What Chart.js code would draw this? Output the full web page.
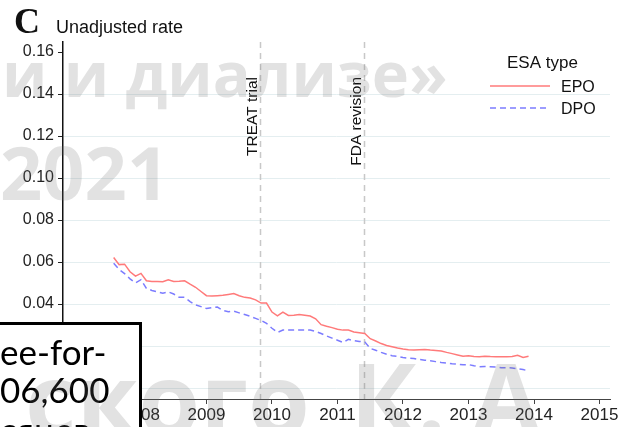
<!DOCTYPE html>
<html>
<head>
<meta charset="utf-8">
<script src="https://cdn.jsdelivr.net/npm/chart.js@4.4.1/dist/chart.umd.min.js"></script>
<style>
  html, body { margin: 0; padding: 0; background: #fff; overflow: hidden; }
  #wrap { width: 626px; height: 427px; position: relative; }
</style>
</head>
<body>
<div id="wrap"><canvas id="chart" width="626" height="427"></canvas></div>
<script>
// === Data (monthly, Aug 2007 - Dec 2013) ===
const firstMonth = [2007, 8];
const epoRate = [
  0.0622, 0.0588, 0.0590, 0.0554, 0.0533, 0.0546, 0.0511, 0.0508, 0.0508, 0.0506,
  0.0516, 0.0508, 0.0509, 0.0511, 0.0495, 0.0480, 0.0460, 0.0440, 0.0438, 0.0440,
  0.0442, 0.0446, 0.0450, 0.0440, 0.0432, 0.0429, 0.0420, 0.0405, 0.0405, 0.0362,
  0.0344, 0.0362, 0.0346, 0.0347, 0.0350, 0.0347, 0.0343, 0.0330, 0.0302, 0.0294,
  0.0288, 0.0280, 0.0276, 0.0276, 0.0267, 0.0264, 0.0260, 0.0235, 0.0224, 0.0212,
  0.0203, 0.0197, 0.0191, 0.0186, 0.0182, 0.0181, 0.0183, 0.0184, 0.0181, 0.0179,
  0.0177, 0.0170, 0.0164, 0.0158, 0.0152, 0.0154, 0.0150, 0.0149, 0.0152, 0.0150,
  0.0149, 0.0149, 0.0149, 0.0150, 0.0156, 0.0146, 0.0152
];
const dpoRate = [
  0.0594, 0.0565, 0.0545, 0.0520, 0.0501, 0.0516, 0.0475, 0.0465, 0.0458, 0.0452,
  0.0458, 0.0448, 0.0432, 0.0432, 0.0412, 0.0396, 0.0388, 0.0379, 0.0383, 0.0386,
  0.0370, 0.0364, 0.0366, 0.0358, 0.0350, 0.0342, 0.0332, 0.0322, 0.0308, 0.0285,
  0.0265, 0.0276, 0.0276, 0.0276, 0.0277, 0.0277, 0.0276, 0.0270, 0.0260, 0.0248,
  0.0238, 0.0228, 0.0217, 0.0232, 0.0226, 0.0222, 0.0220, 0.0189, 0.0180, 0.0170,
  0.0161, 0.0154, 0.0151, 0.0146, 0.0142, 0.0141, 0.0136, 0.0133, 0.0130, 0.0126,
  0.0122, 0.0119, 0.0116, 0.0114, 0.0111, 0.0112, 0.0106, 0.0102, 0.0103, 0.0102,
  0.0100, 0.0097, 0.0097, 0.0096, 0.0092, 0.0088, 0.0082
];
const yTicks = [0, 0.02, 0.04, 0.06, 0.08, 0.10, 0.12, 0.14, 0.16];
const xTicks = [2008, 2009, 2010, 2011, 2012, 2013, 2014, 2015];
const events = [
  { label: "TREAT trial", at: 2009.82 },
  { label: "FDA revision", at: 2011.40 }
];
const seriesNames = ["EPO", "DPO"];

// month index -> decimal year
const monthPos = epoRate.map((_, i) => firstMonth[0] + (firstMonth[1] - 1 + i) / 12);
const toPoints = arr => arr.map((v, i) => ({ x: monthPos[i], y: v }));

const SANS = '"Liberation Sans", Arial, sans-serif';
const RED = "#ff7a7a";
const BLUE = "#7c7cff";

// === Annotations, legend, title, overlay ===
const decor = {
  id: "decor",
  beforeDatasetsDraw(chart) {
    const { ctx, chartArea: a, scales: { x } } = chart;
    ctx.save();
    ctx.strokeStyle = "#c8c8c8";
    ctx.lineWidth = 1.5;
    ctx.setLineDash([6, 5]);
    events.forEach(ev => {
      const px = Math.round(x.getPixelForValue(ev.at)) + 0.5;
      ctx.beginPath();
      ctx.moveTo(px, a.top);
      ctx.lineTo(px, a.bottom);
      ctx.stroke();
    });
    ctx.restore();
  },
  afterDraw(chart) {
    const { ctx, scales: { x } } = chart;
    ctx.save();

    // event labels (rotated)
    ctx.fillStyle = "#111";
    ctx.font = "15.5px " + SANS;
    ctx.textAlign = "right";
    ctx.textBaseline = "alphabetic";
    events.forEach(ev => {
      const px = x.getPixelForValue(ev.at) - 3;
      ctx.save();
      ctx.translate(px, 77);
      ctx.rotate(-Math.PI / 2);
      ctx.fillText(ev.label, 0, 0);
      ctx.restore();
    });

    // title
    ctx.textAlign = "left";
    ctx.font = "bold 36px \"Liberation Serif\", serif";
    ctx.fillText("C", 14, 33);
    ctx.font = "18px " + SANS;
    ctx.fillText("Unadjusted rate", 56, 33);

    // legend
    ctx.font = "17px " + SANS;
    ctx.fillText("ESA type", 507, 68);
    ctx.font = "16px " + SANS;
    ctx.fillText(seriesNames[0], 561, 92);
    ctx.fillText(seriesNames[1], 561, 114);
    ctx.lineWidth = 1.5;
    ctx.strokeStyle = RED;
    ctx.beginPath(); ctx.moveTo(490, 86); ctx.lineTo(550, 86); ctx.stroke();
    ctx.strokeStyle = BLUE;
    ctx.setLineDash([6, 4]);
    ctx.beginPath(); ctx.moveTo(490, 108); ctx.lineTo(550, 108); ctx.stroke();
    ctx.setLineDash([]);

    // overlaid slide text box
    ctx.fillStyle = "#fff";
    ctx.fillRect(-5, 322, 147, 120);
    ctx.strokeStyle = "#000";
    ctx.lineWidth = 3;
    ctx.strokeRect(-5, 323.5, 145.5, 120);
    ctx.fillStyle = "#000";
    ctx.font = "35px Lato, \"Open Sans\", sans-serif";
    ctx.fillText("ee-for-", 0, 365);
    ctx.fillText("06,600", 0, 403);
    ctx.fillText("сяцев", 0, 443);

    // watermark
    ctx.fillStyle = "rgba(110,110,110,0.2)";
    ctx.font = "bold 63px \"Open Sans\", sans-serif";
    ctx.fillText("и и диализе»", 2, 97);
    ctx.font = "bold 74px \"Open Sans\", sans-serif";
    ctx.fillText("2021", 0, 200);
    ctx.font = "bold 100px \"Open Sans\", sans-serif";
    ctx.textAlign = "right";
    ctx.fillText("ского", 310, 436);
    ctx.textAlign = "left";
    ctx.fillText("К. А", 350, 436);

    ctx.restore();
  }
};

const chart = new Chart(document.getElementById("chart").getContext("2d"), {
  type: "line",
  data: {
    datasets: [
      {
        label: seriesNames[0],
        data: toPoints(epoRate),
        borderColor: RED,
        borderWidth: 1.5,
        pointRadius: 0,
        tension: 0,
        fill: false
      },
      {
        label: seriesNames[1],
        data: toPoints(dpoRate),
        borderColor: BLUE,
        borderWidth: 1.5,
        borderDash: [6, 4],
        pointRadius: 0,
        tension: 0,
        fill: false
      }
    ]
  },
  options: {
    responsive: false,
    animation: false,
    devicePixelRatio: 1,
    layout: { padding: { left: 0, right: 16, top: 42, bottom: 0 } },
    plugins: { legend: { display: false }, tooltip: { enabled: false } },
    scales: {
      x: {
        type: "linear",
        min: 2006.81,
        max: 2015.16,
        afterBuildTicks: s => { s.ticks = xTicks.map(v => ({ value: v })); },
        afterFit: s => { s.height = 28; },
        grid: { drawOnChartArea: false, drawTicks: true, tickLength: 5, tickColor: "#444" },
        border: { color: "#444", width: 1 },
        ticks: {
          font: { family: SANS, size: 17 },
          color: "#222",
          padding: 1,
          maxRotation: 0,
          autoSkip: false,
          callback: v => String(v)
        }
      },
      y: {
        min: -0.0052,
        max: 0.1648,
        afterBuildTicks: s => { s.ticks = yTicks.map(v => ({ value: v })); },
        afterFit: s => { s.width = 63; },
        grid: {
          color: c => (c.tick && c.tick.value > 0.15 ? "rgba(0,0,0,0)" : "#e4eef0"),
          tickColor: "#222",
          tickLength: 5
        },
        border: { color: "#111", width: 1.5 },
        ticks: {
          font: { family: SANS, size: 16 },
          color: "#222",
          padding: 4,
          autoSkip: false,
          callback: v => v.toFixed(2)
        }
      }
    }
  },
  plugins: [decor]
});
</script>
</body>
</html>
